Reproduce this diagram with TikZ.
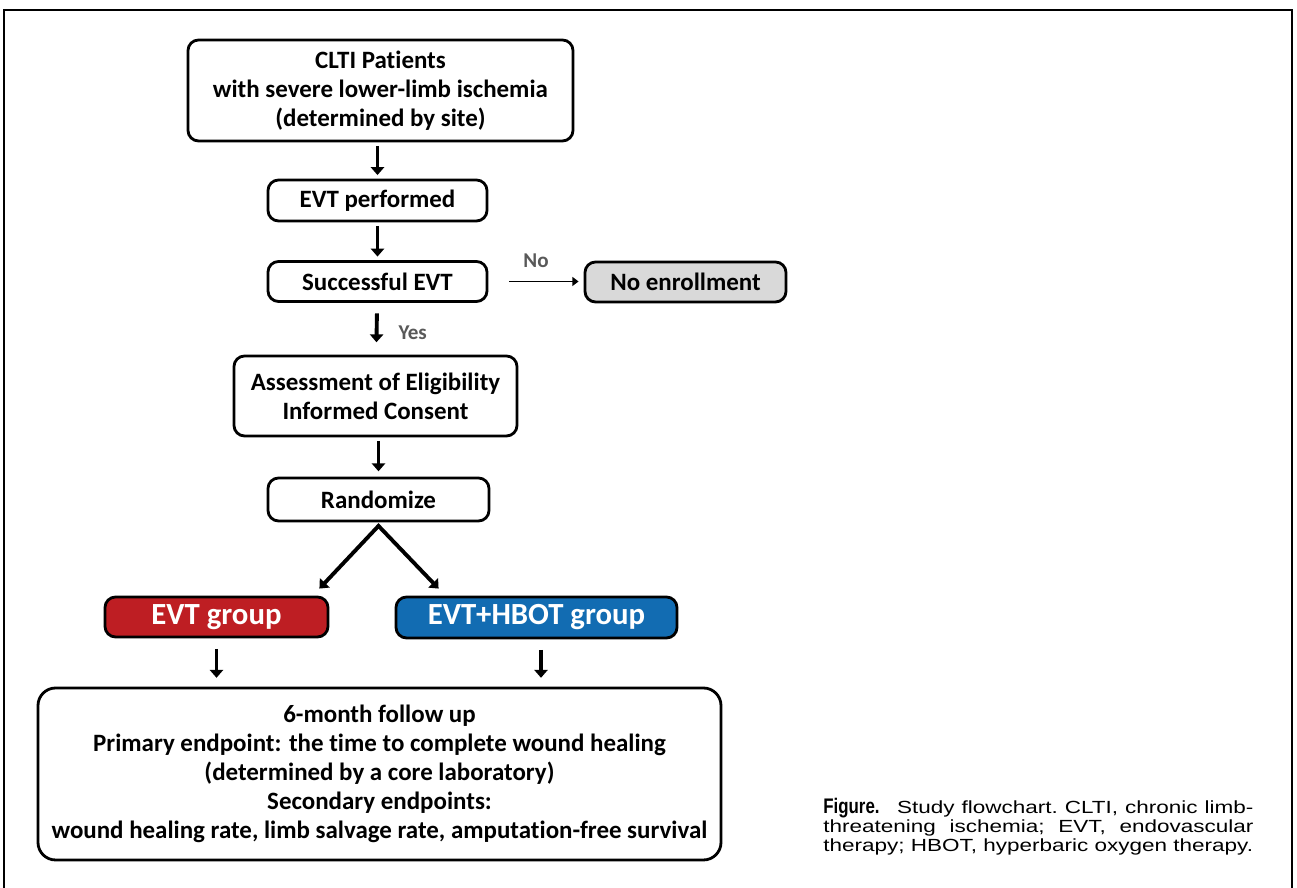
\documentclass[tikz,border=0pt]{standalone}
\usepackage{fontspec}
\setmainfont{Carlito}[Ligatures=NoCommon]
\newfontfamily\capfont[FakeStretch=1.28]{Liberation Sans}
\usetikzlibrary{arrows.meta}

\definecolor{evtred}{HTML}{BE1E23}
\definecolor{hbotblue}{HTML}{126CB2}
\definecolor{labelgray}{HTML}{595959}

\tikzset{
  box/.style={draw, line width=1.6pt, rounded corners=6pt, align=center, inner sep=0pt,
    font=\bfseries\fontsize{14.2}{16.4}\selectfont},
  grpbox/.style={box, text=white, font=\bfseries\fontsize{17.5}{19}\selectfont},
  arr/.style={line width=2.2pt, -{Triangle[length=4.5pt,width=7.5pt]}},
  lbl/.style={text=labelgray, font=\bfseries\fontsize{12}{14}\selectfont}
}

\begin{document}
\begin{tikzpicture}
  \useasboundingbox (0,0) rectangle (25.94,17.76);
  \draw [line width=1.2pt] (0.08,-0.5) -- (0.08,17.56) -- (25.84,17.56) -- (25.84,-0.5);

  \node [box, minimum width=7.7cm, minimum height=2.02cm] (clti) at (7.61,15.95)
    {CLTI Patients\\with severe lower-limb ischemia\\(determined by site)};
  \node [box, minimum width=4.38cm, minimum height=0.82cm] (evt) at (7.55,13.75) {EVT performed};
  \node [box, minimum width=4.38cm, minimum height=0.8cm] (succ) at (7.55,12.13) {Successful EVT};
  \node [box, fill=gray!30, minimum width=4.02cm, minimum height=0.8cm] (noenr) at (13.71,12.12) {No enrollment};
  \node [box, minimum width=5.66cm, minimum height=1.6cm] (elig) at (7.51,9.84)
    {Assessment of Eligibility\\Informed Consent};
  \node [box, minimum width=4.42cm, minimum height=0.86cm] (rand) at (7.57,7.77) {Randomize};
  \node [grpbox, fill=evtred, minimum width=4.46cm, minimum height=0.8cm] (evtgrp) at (4.33,5.42) {EVT group};
  \node [grpbox, fill=hbotblue, minimum width=5.62cm, minimum height=0.82cm] (hbotgrp) at (10.73,5.41) {EVT+HBOT group};
  \node [box, rounded corners=10pt, minimum width=13.66cm, minimum height=3.44cm] (fu) at (7.59,2.28)
    {6-month follow up\\Primary endpoint: the time to complete wound healing\\(determined by a core laboratory)\\Secondary endpoints:\\wound healing rate, limb salvage rate, amputation-free survival};

  \node [anchor=west, inner sep=0pt, text width=8.6cm, align=justify,
    font=\capfont\fontsize{10}{10.8}\selectfont] (cap) at (16.46,1.22)
    {\frenchspacing\parfillskip=0pt \scalebox{0.75}[1.2]{\bfseries Figure.}\quad Study flowchart. CLTI, chronic limb-\linebreak
     threatening ischemia; EVT, endovascular\linebreak therapy; HBOT, hyperbaric oxygen therapy.};

  \draw [arr, shorten <=2pt, shorten >=2pt] (evt.north |- clti.south) -- (evt.north);
  \draw [arr, shorten <=2pt, shorten >=2pt] (evt) -- (succ);
  \draw [arr, shorten <=6pt, shorten >=7pt] (succ) -- (elig) node [lbl, midway, right=8pt, yshift=-2pt] {Yes};
  \draw [arr, shorten <=2pt, shorten >=3pt] (rand.north |- elig.south) -- (rand.north);
  \draw [line width=1.1pt, -{Triangle[length=3.5pt,width=5pt]}, shorten <=0.42cm, shorten >=0.1cm]
    (succ.east) -- (noenr.west |- succ.east) node [lbl, midway, above=4pt] {No};
  \draw [line width=2.2pt, {Triangle[length=4.5pt,width=7.5pt]}-{Triangle[length=4.5pt,width=7.5pt]}]
    ([xshift=-0.2cm, yshift=0.14cm]evtgrp.north east) -- ([yshift=-2pt]rand.south)
    -- ([xshift=0.88cm, yshift=0.14cm]hbotgrp.north west);
  \draw [arr, shorten <=6pt, shorten >=5pt] (evtgrp.south) -- (evtgrp.south |- fu.north);
  \draw [arr, shorten <=6pt, shorten >=5pt] ([xshift=0.09cm]hbotgrp.south) -- ([xshift=0.09cm]hbotgrp.south |- fu.north);
\end{tikzpicture}
\end{document}
